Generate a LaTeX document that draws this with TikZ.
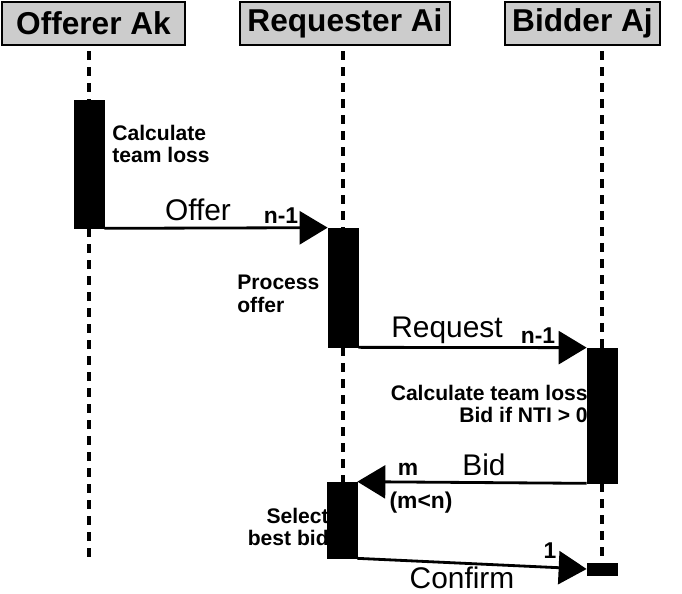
\documentclass[tikz,border=0pt]{standalone}
\usepackage{fontspec}
\setmainfont{Liberation Sans}
\usepackage{tikz}
\usetikzlibrary{arrows.meta}
\newcommand{\hdrfont}{\fontsize{18}{20}\selectfont\bfseries}
\newcommand{\msgfont}{\fontsize{17}{20}\selectfont}
\newcommand{\notefont}{\fontsize{12}{13}\selectfont\bfseries}
\newcommand{\cntfont}{\fontsize{13}{15}\selectfont\bfseries}
\tikzset{
  head/.style={draw, line width=1pt, fill=gray!40, minimum height=0.86cm,
               inner sep=0pt, font=\hdrfont},
  act/.style={draw, fill=black, minimum width=0.6cm, inner sep=0pt},
  life/.style={line width=2.3pt, dash pattern=on 0.18cm off 0.14cm},
  msg/.style={line width=1.6pt, -{Triangle[length=0.56cm,width=0.66cm]}},
  mlbl/.style={font=\msgfont, inner sep=0pt},
  note/.style={font=\notefont, inner sep=0pt},
  cnt/.style={font=\cntfont, inner sep=0pt},
}

\begin{document}
\begin{tikzpicture}[x=0.02cm, y=-0.02cm]
    \useasboundingbox (0,0) rectangle (682,594);

    % lifeline heads
    \node[head, minimum width=3.66cm] (off) at (93.5,23.5) {Offerer Ak};
    \node[head, minimum width=4.2cm] (req) at (345,23.5) {Requester Ai};
    \node[head, minimum width=3.1cm] (bid) at (582.5,23.5) {Bidder Aj};

    % notes (drawn before the bars)
    \node[note, align=left, anchor=west] (nA) at (112,144) {Calculate\\team loss};
    \node[note, align=left, anchor=west] (nR1) at (237,294) {Process\\offer};
    \node[note, align=right, anchor=east] (nB1) at (588,404) {Calculate team loss\\Bid if NTI > 0};
    \node[note, align=right, anchor=east] (nR2) at (329,527) {Select\\best bid};

    % activation bars
    \node[act, minimum height=2.56cm] (actA) at (89,164) {};
    \node[act, minimum height=2.38cm] (actR1) at (343,287.5) {};
    \node[act, minimum height=2.7cm] (actB1) at (602,415.5) {};
    \node[act, minimum height=1.52cm] (actR2) at (342,520) {};
    \node[act, minimum height=0.24cm] (actB2) at (602,569) {};
    \coordinate (endA) at (89,560);

    % lifelines
    \draw[life, shorten <=3pt] (actA |- off.south) -- (actA.north);
    \draw[life] (actA.south) -- (endA);
    \draw[life, shorten <=3pt] (actR1 |- req.south) -- (actR1.north);
    \draw[life] (actR1.south) -- (actR2.north -| actR1);
    \draw[life, shorten <=3pt] (actB1 |- bid.south) -- (actB1.north);
    \draw[life] (actB1.south) -- (actB2.north);

    % messages
    \draw[msg] (actA.south east) -- (actR1.north west);
    \node[mlbl] (lOffer) at (198,210) {Offer};
    \node[cnt] (cOffer) at (281,216) {n-1};

    \draw[msg] (actR1.south east) -- (actB1.north west);
    \node[mlbl] (lReq) at (447,330) {Request};
    \node[cnt] (cReq) at (538,336) {n-1};

    \draw[msg] (actB1.south west) -- (actR2.north east);
    \node[mlbl] (lBid) at (484,465) {Bid};
    \node[cnt] (cBid) at (408,469) {m};
    \node[cnt] (cBid2) at (421,503) {(m<n)};

    \draw[msg] (actR2.south east) -- (actB2.west);
    \node[cnt] (cConf) at (550,551) {1};
    \node[mlbl] (lConf) at (462,578) {Confirm};
  \end{tikzpicture}
\end{document}
